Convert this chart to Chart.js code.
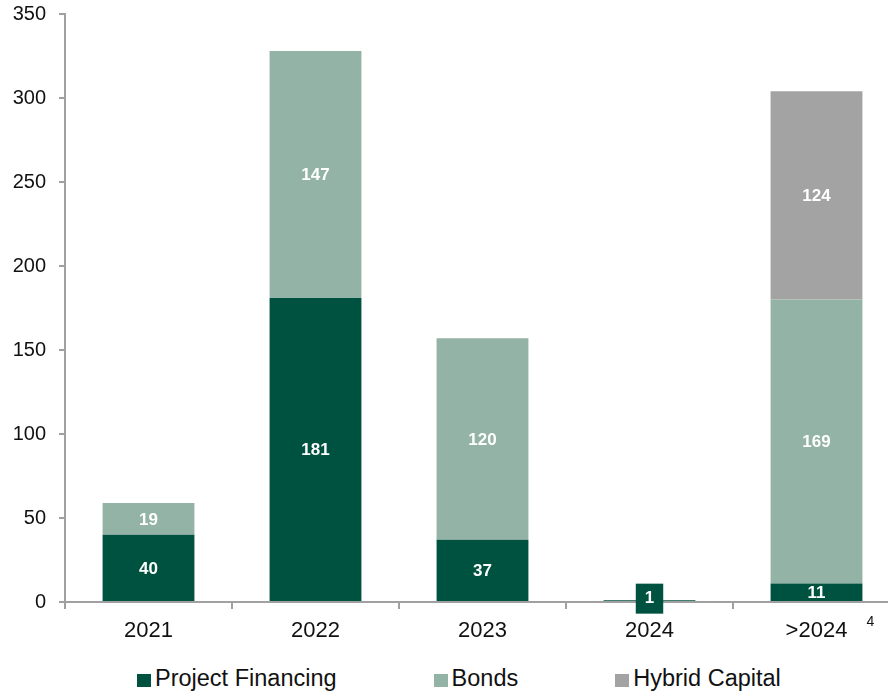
<!DOCTYPE html>
<html>
<head>
<meta charset="utf-8">
<script src="https://cdn.jsdelivr.net/npm/chart.js@4"></script>
<style>
  html, body { margin: 0; padding: 0; background: #fff; overflow: hidden; width: 888px; height: 692px; }
  #wrap { position: relative; width: 900px; height: 692px; }
  #legend { position: absolute; left: 137px; top: 665px; display: flex; gap: 97px; font: 23.5px "Liberation Sans", Arial, sans-serif; color: #111; line-height: 27px; }
  #legend span.item { display: flex; align-items: center; }
  #legend i { display: inline-block; width: 14px; height: 13px; margin-right: 4px; margin-top: 3px; }
</style>
</head>
<body>
<div id="wrap">
  <canvas id="debtChart" width="900" height="660"></canvas>
  <div id="legend"></div>
</div>
<script>
const categories = ['2021', '2022', '2023', '2024', '>2024'];
const projectFinancing = [40, 181, 37, 1, 11];
const bonds = [19, 147, 120, 0, 169];
const hybridCapital = [0, 0, 0, 0, 124];
const seriesNames = ['Project Financing', 'Bonds', 'Hybrid Capital'];
const seriesColors = ['#005240', '#93B3A6', '#A3A3A3'];
const footnote = '4';

const FONT = '"Liberation Sans", Arial, sans-serif';

const barLabels = {
  id: 'barLabels',
  afterDatasetsDraw(chart) {
    const ctx = chart.ctx;
    ctx.save();
    ctx.font = 'bold 17px ' + FONT;
    ctx.textAlign = 'center';
    ctx.textBaseline = 'middle';
    chart.data.datasets.forEach((ds, i) => {
      chart.getDatasetMeta(i).data.forEach((bar, j) => {
        const v = ds.data[j];
        if (!v) return;
        const y = (bar.y + bar.base) / 2;
        const h = Math.abs(bar.base - bar.y);
        if (h < 12) {
          const w = ctx.measureText(String(v)).width + 18;
          ctx.fillStyle = ds.backgroundColor;
          ctx.fillRect(bar.x - w / 2, y - 17, w, 30);
        }
        ctx.fillStyle = '#fff';
        ctx.fillText(String(v), bar.x, h < 12 ? y - 2 : y + 1);
      });
    });
    // footnote marker after the last category label
    const xs = chart.scales.x;
    ctx.font = '14px ' + FONT;
    ctx.fillStyle = '#111';
    ctx.textAlign = 'left';
    ctx.fillText(footnote, xs.getPixelForValue(categories.length - 1) + 50, 622);
    ctx.restore();
  }
};

new Chart(document.getElementById('debtChart'), {
  type: 'bar',
  data: {
    labels: categories,
    datasets: [
      { label: seriesNames[0], data: projectFinancing, backgroundColor: seriesColors[0] },
      { label: seriesNames[1], data: bonds, backgroundColor: seriesColors[1] },
      { label: seriesNames[2], data: hybridCapital, backgroundColor: seriesColors[2] },
    ],
  },
  options: {
    responsive: false,
    animation: false,
    layout: { padding: { top: 14, left: 0, right: 0, bottom: 0 } },
    datasets: { bar: { categoryPercentage: 1, barPercentage: 0.55 } },
    plugins: { legend: { display: false }, tooltip: { enabled: false } },
    scales: {
      x: {
        stacked: true,
        afterFit: (s) => { s.height = 58; s.paddingLeft = 0; s.paddingRight = 0; },
        grid: { display: true, drawOnChartArea: false, offset: true, tickLength: 7, color: '#A0A0A0', lineWidth: 2 },
        border: { display: true, color: '#A0A0A0', width: 2 },
        ticks: { color: '#111', padding: 9, font: { family: FONT, size: 22 } },
      },
      y: {
        stacked: true,
        min: 0,
        max: 350,
        afterFit: (s) => { s.width = 65; s.paddingTop = 0; s.paddingBottom = 0; },
        grid: { display: true, drawOnChartArea: false, tickLength: 6, color: '#A0A0A0', lineWidth: 2 },
        border: { display: true, color: '#A0A0A0', width: 2 },
        ticks: { stepSize: 50, color: '#111', padding: 13, font: { family: FONT, size: 20 } },
      },
    },
  },
  plugins: [barLabels],
});

const legend = document.getElementById('legend');
seriesNames.forEach((name, i) => {
  const item = document.createElement('span');
  item.className = 'item';
  item.innerHTML = '<i style="background:' + seriesColors[i] + '"></i>' + name;
  legend.appendChild(item);
});
</script>
</body>
</html>
